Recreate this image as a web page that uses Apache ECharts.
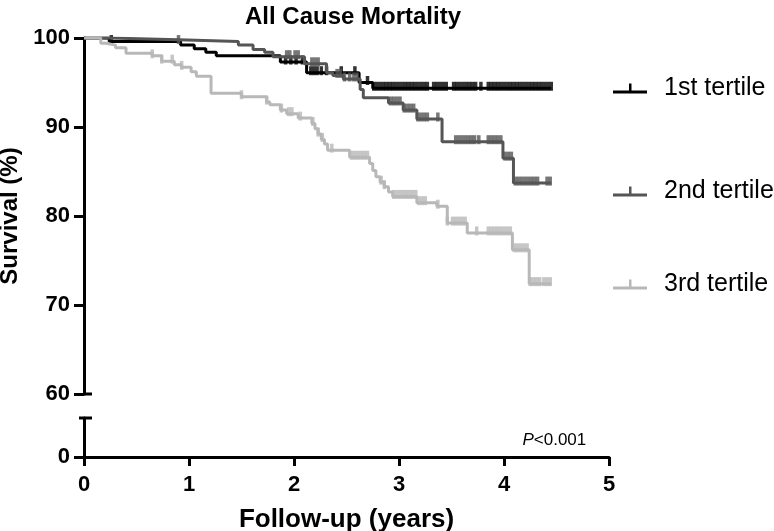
<!DOCTYPE html>
<html>
<head>
<meta charset="utf-8">
<script src="https://cdn.jsdelivr.net/npm/echarts@6/dist/echarts.min.js"></script>
<style>html,body{margin:0;padding:0;background:#fff}#c{width:774px;height:531px}</style>
</head>
<body>
<div id="c"></div>
<script>
// ---- data ----
const xTicks = [0, 1, 2, 3, 4, 5];
const yTicks = [60, 70, 80, 90, 100];
const seriesNames = ['1st tertile', '2nd tertile', '3rd tertile'];

// 1st tertile (step times in years, survival %)
const t1 = [0, 0.24, 0.92, 1.05, 1.16, 1.26, 1.87, 2.12, 2.62, 2.75, 4.45];
const s1 = [100, 99.6, 99.2, 98.8, 98.4, 98.0, 97.3, 96.1, 95.0, 94.35, 94.35];
const c1 = [0.26, 1.92, 1.97, 2.02, 2.08, 2.16, 2.19, 2.22, 2.26, 2.31, 2.45, 2.58, 2.7,
  2.76, 2.79, 2.82, 2.85, 2.88, 2.91, 2.94, 2.97, 3.0, 3.03, 3.06, 3.09, 3.12, 3.15, 3.18, 3.21, 3.24, 3.27,
  3.33, 3.36, 3.39, 3.42, 3.45, 3.52, 3.55, 3.58, 3.61, 3.64, 3.67, 3.70, 3.73, 3.78,
  3.85, 3.88, 3.91, 3.94, 3.97, 4.0, 4.03, 4.06, 4.09, 4.12, 4.15, 4.18, 4.21, 4.24, 4.27, 4.30, 4.33, 4.36, 4.39, 4.42, 4.45];

// 2nd tertile
const t2 = [0, 0.24, 0.9, 1.47, 1.61, 1.72, 1.80, 2.10, 2.31, 2.37, 2.47, 2.63, 2.66, 2.90, 3.04, 3.17, 3.41, 3.99, 4.09, 4.45];
const s2 = [100, 99.8, 99.6, 99.2, 98.7, 98.4, 97.9, 97.1, 96.1, 95.8, 95.4, 94.2, 93.3, 92.7, 91.9, 90.9, 88.35, 86.5, 83.7, 83.7];
const c2 = [0.9, 1.93, 1.96, 2.01, 2.04, 2.17, 2.2, 2.23, 2.41, 2.44, 2.48, 2.53, 2.57, 2.6,
  2.92, 2.95, 2.98, 3.01, 3.05, 3.08, 3.11, 3.14, 3.18, 3.21, 3.24, 3.27, 3.37,
  3.54, 3.57, 3.6, 3.63, 3.66, 3.69, 3.72, 3.76, 3.85, 3.88, 3.91, 3.94, 3.97,
  4.01, 4.04, 4.07, 4.11, 4.14, 4.17, 4.2, 4.23, 4.26, 4.29, 4.32, 4.41, 4.44];

// 3rd tertile
const t3 = [0, 0.16, 0.21, 0.30, 0.40, 0.65, 0.74, 0.86, 0.93, 1.02, 1.07, 1.21, 1.50, 1.74, 1.77, 1.87, 1.93, 2.04,
  2.17, 2.20, 2.23, 2.26, 2.29, 2.32, 2.53, 2.72, 2.75, 2.78, 2.82, 2.86, 2.90, 2.94, 3.17, 3.36, 3.46, 3.65, 4.08, 4.24, 4.45];
const s3 = [100, 99.4, 99.2, 98.9, 98.3, 98.0, 97.4, 97.0, 96.7, 96.2, 95.7, 93.8, 93.4, 92.8, 92.5, 91.9, 91.5, 91.0,
  90.4, 89.8, 89.2, 88.6, 88.1, 87.4, 86.6, 85.9, 85.1, 84.4, 83.8, 83.3, 82.7, 82.2, 81.5, 81.1, 79.2, 78.1, 76.2, 72.4, 72.4];
const c3 = [0.65, 0.74, 0.84, 0.93, 1.5, 1.74, 1.88, 1.95, 1.98, 2.06, 2.18, 2.23, 2.27, 2.36,
  2.55, 2.58, 2.61, 2.64, 2.67, 2.7, 2.83, 2.86, 2.95, 2.98, 3.01, 3.04, 3.07, 3.1, 3.13, 3.16, 3.19, 3.22, 3.25,
  3.37, 3.46, 3.51, 3.54, 3.57, 3.6, 3.63, 3.74, 3.85, 3.88, 3.91, 3.94, 3.97, 4.0, 4.03, 4.06,
  4.1, 4.13, 4.16, 4.19, 4.22, 4.25, 4.28, 4.31, 4.34, 4.38, 4.41, 4.44];

const colors = ['#000000', '#555555', '#b8b8b8'];
const FONT = '"Liberation Sans", Arial, sans-serif';

function stepAt(ts, ss, t) {
  let v = ss[0];
  for (let i = 0; i < ts.length; i++) { if (ts[i] <= t + 1e-9) v = ss[i]; }
  return v;
}
const groups = [[t1, s1, c1], [t2, s2, c2], [t3, s3, c3]];

const series = [];
groups.forEach((g, k) => {
  series.push({
    name: seriesNames[k], type: 'line', step: 'end', xAxisIndex: 0, yAxisIndex: 0,
    showSymbol: false, symbol: 'none', animation: false,
    lineStyle: { color: colors[k], width: 3 }, itemStyle: { color: colors[k] },
    data: g[0].map((t, i) => [t, g[1][i]]), z: 2 + k
  });
  series.push({
    name: seriesNames[k] + ' censored', type: 'scatter', xAxisIndex: 0, yAxisIndex: 0,
    symbol: 'rect', symbolSize: [3.5, 9], symbolOffset: [0, -2], animation: false,
    itemStyle: { color: colors[k] }, silent: true,
    data: g[2].map(t => [t, stepAt(g[0], g[1], t)]), z: 2 + k
  });
});

const legendIcon = 'path://M0,7L34,7L34,10L0,10Z M16,0L18.5,0L18.5,7L16,7Z';
const legendTops = [76, 179, 272];
const legends = seriesNames.map((n, k) => ({
  data: [{ name: n, icon: legendIcon, itemStyle: { color: colors[k] } }],
  left: 613, top: legendTops[k], orient: 'vertical', itemWidth: 34, itemHeight: 10,
  padding: 0, selectedMode: false,
  textStyle: { fontSize: 25, color: '#000', fontFamily: FONT, padding: [0, 0, 0, 12] }
}));

const axisLineStyle = { color: '#000', width: 3 };
const chart = echarts.init(document.getElementById('c'), null, { renderer: 'canvas' });
const option = {
  animation: false,
  backgroundColor: '#fff',
  textStyle: { fontFamily: FONT },
  title: {
    text: 'All Cause Mortality', left: 348, top: 0, textAlign: 'center',
    textStyle: { fontSize: 24, fontWeight: 'bold', color: '#000', fontFamily: FONT }
  },
  legend: legends,
  grid: [
    { left: 84, top: 38, width: 525, height: 356, containLabel: false, outerBoundsMode: 'none' },
    { left: 84, top: 418, width: 525, height: 39, containLabel: false, outerBoundsMode: 'none' }
  ],
  xAxis: [
    { gridIndex: 0, type: 'value', min: 0, max: 5, interval: 1, show: false },
    {
      gridIndex: 1, type: 'value', min: 0, max: 5, interval: 1,
      axisLine: { show: true, lineStyle: axisLineStyle },
      axisTick: { show: true, length: 9, lineStyle: { color: '#000', width: 3 } },
      axisLabel: { fontSize: 22, fontWeight: 'bold', color: '#000', margin: 17, fontFamily: FONT },
      splitLine: { show: false },
      name: 'Follow-up (years)', nameLocation: 'middle', nameGap: 50,
      nameTextStyle: { fontSize: 26, fontWeight: 'bold', color: '#000', fontFamily: FONT }
    }
  ],
  yAxis: [
    {
      gridIndex: 0, type: 'value', min: 60, max: 100, interval: 10,
      axisLine: { show: true, lineStyle: axisLineStyle },
      axisTick: { show: true, length: 10, lineStyle: { color: '#000', width: 3 } },
      axisLabel: { fontSize: 22, fontWeight: 'bold', color: '#000', margin: 14, fontFamily: FONT },
      splitLine: { show: false },
      name: 'Survival (%)', nameLocation: 'middle', nameGap: 51,
      nameTextStyle: { fontSize: 24, fontWeight: 'bold', color: '#000', fontFamily: FONT }
    },
    {
      gridIndex: 1, type: 'value', min: 0, max: 10, interval: 10,
      axisLine: { show: true, lineStyle: axisLineStyle },
      axisTick: { show: true, length: 10, customValues: [0], lineStyle: { color: '#000', width: 3 } },
      axisLabel: { fontSize: 22, fontWeight: 'bold', color: '#000', margin: 14, customValues: [0], fontFamily: FONT },
      splitLine: { show: false }
    }
  ],
  series: series
};
chart.setOption(option);

// axis-break caps and the P value note, placed through the axes' own scales
const p60 = chart.convertToPixel({ gridIndex: 0 }, [0, 60]);
const pTop = chart.convertToPixel({ gridIndex: 1 }, [0, 10]);
const pNote = chart.convertToPixel({ gridIndex: 1 }, [4.25, 5]);
chart.setOption({
  graphic: [
    { type: 'line', shape: { x1: p60[0], y1: p60[1], x2: p60[0] + 8, y2: p60[1] }, style: { stroke: '#000', lineWidth: 3 } },
    { type: 'line', shape: { x1: pTop[0] - 5, y1: pTop[1], x2: pTop[0] + 8, y2: pTop[1] }, style: { stroke: '#000', lineWidth: 3 } },
    {
      type: 'text', x: pNote[0] + 56, y: 440,
      style: {
        text: '{i|P}<0.001', align: 'right', verticalAlign: 'middle',
        font: '17px ' + FONT, fill: '#000',
        rich: { i: { fontStyle: 'italic', fontSize: 17, fontFamily: FONT } }
      }
    }
  ]
});
</script>
</body>
</html>
